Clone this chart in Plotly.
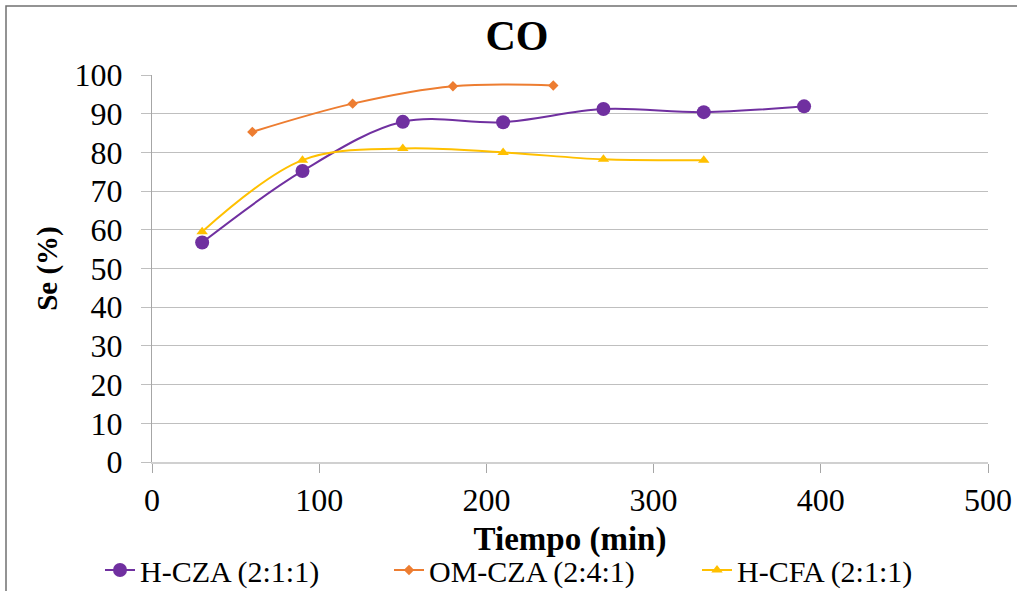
import plotly.graph_objs as go

# Data
time_hcza = [30, 90, 150, 210, 270, 330, 390]
se_hcza = [56.7, 75.2, 87.9, 87.8, 91.2, 90.4, 91.9]

time_omcza = [60, 120, 180, 240]
se_omcza = [85.3, 92.6, 97.1, 97.3]

time_hcfa = [30, 90, 150, 210, 270, 330]
se_hcfa = [59.5, 78.0, 81.0, 80.0, 78.2, 78.0]

font_family = "Liberation Serif"
grid_gray = '#BFBFBF'

# Plot area in pixels
left, top, plot_w, plot_h = 152, 75, 836, 387

data = []
data.append(go.Scatter(name='H-CZA (2:1:1)', x=time_hcza, y=se_hcza, mode='lines+markers',
                       line={'color': '#7030A0', 'width': 2, 'shape': 'spline', 'smoothing': 1},
                       marker={'symbol': 'circle', 'size': 14, 'color': '#7030A0'},
                       legend='legend'))
data.append(go.Scatter(name='OM-CZA (2:4:1)', x=time_omcza, y=se_omcza, mode='lines+markers',
                       line={'color': '#ED7D31', 'width': 2, 'shape': 'spline', 'smoothing': 1},
                       marker={'symbol': 'diamond', 'size': 8, 'color': '#ED7D31'},
                       legend='legend2'))
data.append(go.Scatter(name='H-CFA (2:1:1)', x=time_hcfa, y=se_hcfa, mode='lines+markers',
                       line={'color': '#FFC000', 'width': 2, 'shape': 'spline', 'smoothing': 1},
                       marker={'symbol': 'triangle-up', 'size': 10, 'color': '#FFC000'},
                       legend='legend3'))


def legend_at(item_left):
    # one legend box per series so each entry sits where the reference puts it
    return dict(orientation='h', x=(item_left - left) / plot_w, xanchor='left',
                y=-0.279, yanchor='middle',
                font=dict(family=font_family, size=30, color='black'), bgcolor='rgba(0,0,0,0)')


layout = {
    "width": 1017,
    "height": 591,
    "margin": dict(l=left, r=1017 - left - plot_w, t=top, b=591 - top - plot_h, autoexpand=False),
    "plot_bgcolor": 'white',
    "paper_bgcolor": 'white',
    "font": dict(family=font_family, size=30, color='black'),
    "title": dict(text='<b>CO</b>', x=517 / 1017, xanchor='center',
                  y=1 - 35 / 591, yanchor='middle',
                  font=dict(family=font_family, size=42, color='black')),
    "showlegend": True,
    "legend": legend_at(100),
    "legend2": legend_at(389),
    "legend3": legend_at(697),
}

fig = go.Figure(data=data, layout=layout)
fig.update_xaxes(range=[0, 500], dtick=100, tick0=0, showgrid=False, zeroline=False,
                 showline=True, linecolor='#D0D0D0', linewidth=2, automargin=False,
                 ticks='outside', ticklen=9, tickcolor='#A6A6A6', tickwidth=1,
                 ticklabelstandoff=0, tickfont=dict(size=32),
                 title=dict(text='<b>Tiempo (min)</b>', standoff=9,
                            font=dict(family=font_family, size=33, color='black')))
fig.update_yaxes(range=[0, 100], dtick=10, tick0=0, showgrid=True, gridcolor=grid_gray, gridwidth=1,
                 zeroline=False, showline=True, linecolor='#A6A6A6', linewidth=1, automargin=False,
                 ticks='outside', ticklen=10, tickcolor=grid_gray, tickwidth=1,
                 ticklabelstandoff=12, tickfont=dict(size=32),
                 title=dict(text='<b>Se (%)</b>', standoff=8,
                            font=dict(family=font_family, size=29, color='black')))

# Outer chart border (right and bottom edges fall outside the window)
fig.add_shape(type='rect', xref='paper', yref='paper',
              x0=(6 - left) / plot_w, x1=(1030 - left) / plot_w,
              y0=(top + plot_h - 600) / plot_h, y1=(top + plot_h - 6) / plot_h,
              line=dict(color='#707070', width=1.5), fillcolor='rgba(0,0,0,0)', layer='below')

# drop the default page margin so the figure sits at the window's top-left corner
fig.write_html("out.html", config={'displayModeBar': False},
               post_script="document.body.style.margin = '0px';")
